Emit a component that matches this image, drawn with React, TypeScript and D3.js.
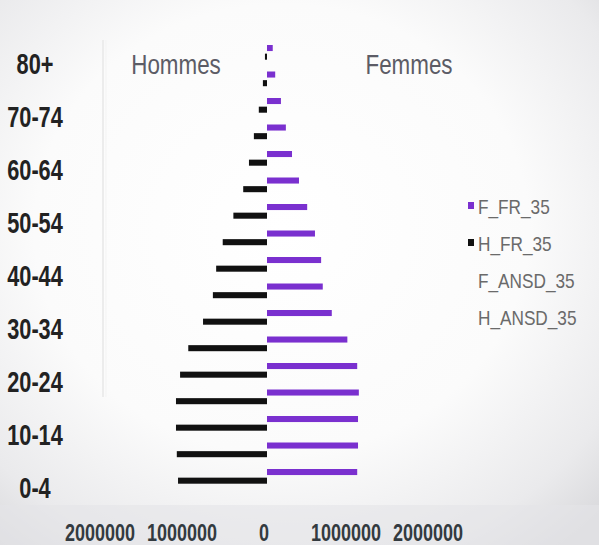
import React from "react";
import * as d3 from "d3";

const categories = ["0-4","5-9","10-14","15-19","20-24","25-29","30-34","35-39","40-44","45-49","50-54","55-59","60-64","65-69","70-74","75-79","80+"];
const femmes = [1100000,1110000,1110000,1120000,1100000,980000,790000,680000,660000,585000,490000,390000,305000,230000,170000,100000,70000];
const hommes = [1085000,1100000,1110000,1110000,1060000,960000,780000,660000,620000,540000,410000,290000,220000,160000,100000,50000,25000];
const seriesNames = ["F_FR_35","H_FR_35","F_ANSD_35","H_ANSD_35"];
const seriesColors = ["#7a30cf","#111111",null,null];
const tickValues = [-2000000,-1000000,0,1000000,2000000];
const labelledCategories = ["0-4","10-14","20-24","30-34","40-44","50-54","60-64","70-74","80+"];

const W = 599, H = 545;
const FONT = "'Liberation Sans', Arial, sans-serif";

function Txt(props: { x: number; y: number; sx: number; size: number; bold?: boolean; fill: string; anchor?: string; children: React.ReactNode }) {
  const { x, y, sx, size, bold, fill, anchor, children } = props;
  return (
    <text
      transform={`translate(${x},${y}) scale(${sx},1)`}
      textAnchor={anchor || "start"}
      fontFamily={FONT}
      fontWeight={bold ? "bold" : "normal"}
      fontSize={size}
      fill={fill}
    >
      {children}
    </text>
  );
}

export default function App() {
  const x = d3.scaleLinear().domain([-2000000, 2000000]).range([103, 431]);
  const y = d3.scaleBand<string>().domain([...categories].reverse()).range([49.75, 500.25]).paddingInner(0).paddingOuter(0);
  const y1 = d3.scaleBand<string>().domain(seriesNames).range([-18, 14]).paddingInner(0.3);
  const center = (c: string) => (y(c) as number) + y.bandwidth() / 2;

  return (
    <svg width={W} height={H} style={{ position: "absolute", left: 0, top: 0 }}>
      <defs>
        <radialGradient id="bg" cx="0.47" cy="0.42" r="0.75">
          <stop offset="0%" stopColor="#ffffff" />
          <stop offset="55%" stopColor="#fbfbfb" />
          <stop offset="85%" stopColor="#eaeaec" />
          <stop offset="100%" stopColor="#d9d9dc" />
        </radialGradient>
      </defs>
      <rect x={0} y={0} width={W} height={H} fill="url(#bg)" />
      <rect x={0} y={505} width={W} height={40} fill="#e4e4e7" opacity={0.6} />
      <line x1={x(-2000000)} x2={x(-2000000)} y1={40} y2={397} stroke="#ececec" strokeWidth={2} />
      <line x1={x(-2000000) + 3} x2={x(-2000000) + 3} y1={40} y2={397} stroke="#f3f3f3" strokeWidth={1} />

      {categories.map((c, i) => (
        <g key={c}>
          <rect
            x={x(0)}
            y={center(c) + (y1("F_FR_35") as number)}
            width={x(femmes[i]) - x(0)}
            height={y1.bandwidth()}
            fill={seriesColors[0] as string}
          />
          <rect
            x={x(-hommes[i])}
            y={center(c) + (y1("H_FR_35") as number)}
            width={x(0) - x(-hommes[i])}
            height={y1.bandwidth()}
            fill={seriesColors[1] as string}
          />
        </g>
      ))}

      {labelledCategories.map((c) => (
        <Txt key={c} x={35} y={center(c) + 10.5} sx={0.75} size={29} bold fill="#222" anchor="middle">{c}</Txt>
      ))}

      {tickValues.map((v) => (
        <Txt key={v} x={x(v) - 3} y={541} sx={0.75} size={24} bold fill="#333a40" anchor="middle">
          {d3.format("d")(Math.abs(v))}
        </Txt>
      ))}

      <Txt x={176} y={74} sx={0.8} size={28} fill="#5c5c66" anchor="middle">Hommes</Txt>
      <Txt x={409} y={74} sx={0.8} size={28} fill="#5c5c66" anchor="middle">Femmes</Txt>

      {seriesNames.map((s, i) => {
        const cy = 206 + i * 37;
        return (
          <g key={s}>
            {seriesColors[i] && <rect x={468} y={cy - 4} width={6} height={7} fill={seriesColors[i] as string} />}
            <Txt x={478} y={cy + 7.5} sx={0.82} size={21} fill="#6a6a6a">{s}</Txt>
          </g>
        );
      })}
    </svg>
  );
}
